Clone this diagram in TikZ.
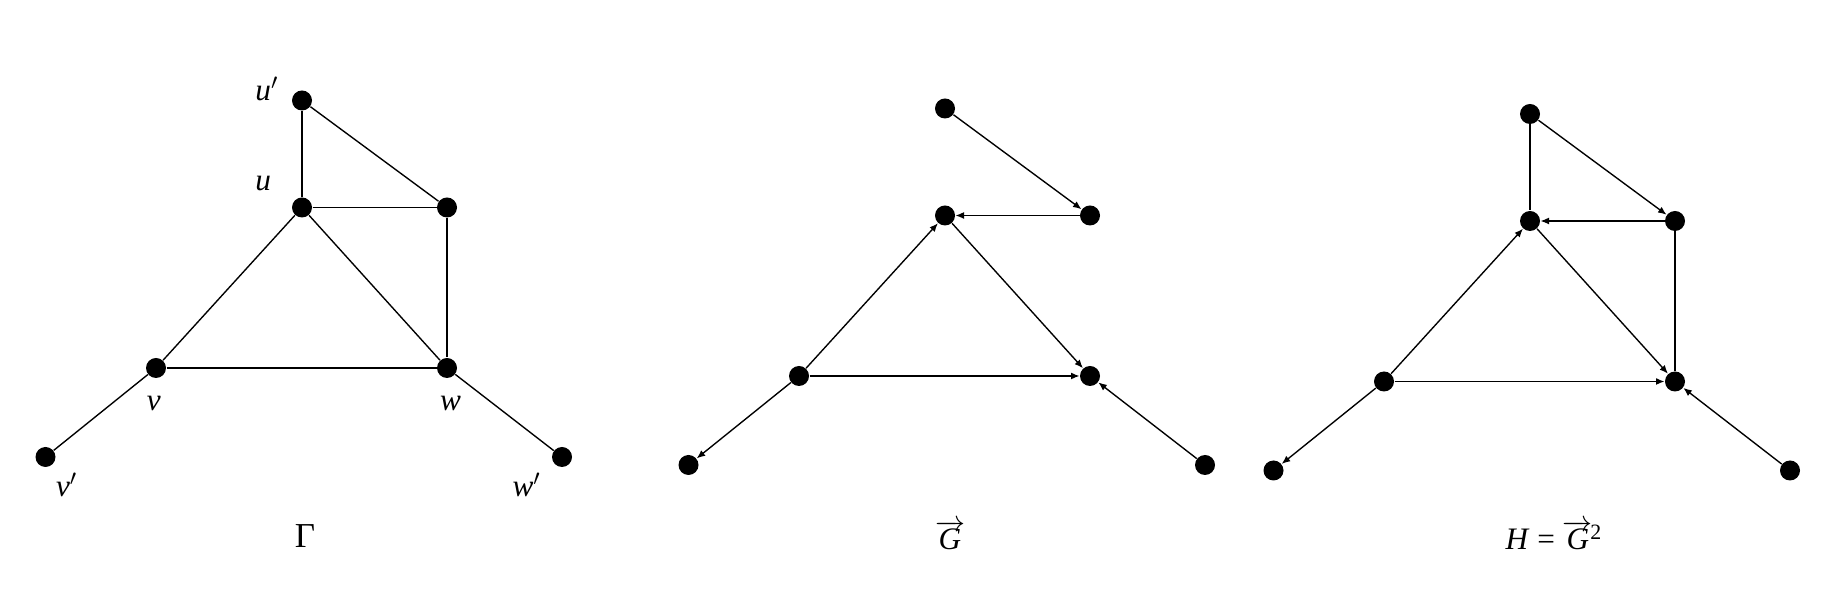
\documentclass[tikz,border=0pt]{standalone}
\usepackage{fontspec}
\setmainfont{Liberation Serif}
\usetikzlibrary{arrows.meta,positioning}

\begin{document}
\begin{tikzpicture}[
  font=\fontsize{12.5}{15}\selectfont,
  on grid,
  dot/.style={circle, fill, inner sep=0pt, minimum size=8pt},
  lbl/.style={inner sep=0pt},
  edge/.style={line width=0.55pt},
  arrow/.style={-{Latex[length=3.4pt,width=2.8pt]}, line width=0.55pt}
]
  \useasboundingbox (0,0) rectangle (733.6pt,-242.4pt);

  % Gamma
  \node[dot] (au) at (120.8pt,-83pt) {};
  \node[dot, above=42.8pt of au] (aup) {};
  \node[dot, right=58pt of au] (ax) {};
  \node[dot, below left=64.2pt and 58.4pt of au] (av) {};
  \node[dot, below right=64.2pt and 58pt of au] (aw) {};
  \node[dot, below left=35.6pt and 44.2pt of av] (avp) {};
  \node[dot, below right=35.6pt and 46pt of aw] (awp) {};

  \node[lbl] (laup) at ([shift={(-14pt,4.7pt)}]aup) {\textit{u}$'$};
  \node[lbl] (lau) at ([shift={(-15.5pt,9.4pt)}]au) {\textit{u}};
  \node[lbl] (lav) at ([shift={(-0.9pt,-14.1pt)}]av) {\textit{v}};
  \node[lbl] (law) at ([shift={(1.4pt,-14.1pt)}]aw) {\textit{w}};
  \node[lbl] (lavp) at ([shift={(8.5pt,-11.3pt)}]avp) {\textit{v}$'$};
  \node[lbl] (lawp) at ([shift={(-14.1pt,-11.3pt)}]awp) {\textit{w}$'$};

  \node[font=\fontsize{14}{16}\selectfont] (capa) at (122pt,-214.4pt) {Γ};

  % G
  \node[dot] (bu) at (378pt,-86.2pt) {};
  \node[dot, above=42.8pt of bu] (bup) {};
  \node[dot, right=58pt of bu] (bx) {};
  \node[dot, below left=64.2pt and 58.4pt of bu] (bv) {};
  \node[dot, below right=64.2pt and 58pt of bu] (bw) {};
  \node[dot, below left=35.6pt and 44.2pt of bv] (bvp) {};
  \node[dot, below right=35.6pt and 46pt of bw] (bwp) {};

  \node (capb) at (380pt,-214.2pt) {$\overrightarrow{\textit{G}}$};

  % H
  \node[dot] (cu) at (612pt,-88.4pt) {};
  \node[dot, above=42.8pt of cu] (cup) {};
  \node[dot, right=58pt of cu] (cx) {};
  \node[dot, below left=64.2pt and 58.4pt of cu] (cv) {};
  \node[dot, below right=64.2pt and 58pt of cu] (cw) {};
  \node[dot, below left=35.6pt and 44.2pt of cv] (cvp) {};
  \node[dot, below right=35.6pt and 46pt of cw] (cwp) {};

  \node (capc) at (621.6pt,-214.2pt) {\textit{H} = $\overrightarrow{\textit{G}}$\kern-1pt\textsuperscript{2}};

  % Edges
  \draw[edge] (aup) -- (au);
  \draw[edge] (aup) -- (ax);
  \draw[edge] (au) -- (ax);
  \draw[edge] (ax) -- (aw);
  \draw[edge] (au) -- (av);
  \draw[edge] (au) -- (aw);
  \draw[edge] (av) -- (aw);
  \draw[edge] (av) -- (avp);
  \draw[edge] (aw) -- (awp);

  \draw[arrow] (bup) -- (bx);
  \draw[arrow] (bx) -- (bu);
  \draw[arrow] (bv) -- (bu);
  \draw[arrow] (bu) -- (bw);
  \draw[arrow] (bv) -- (bw);
  \draw[arrow] (bv) -- (bvp);
  \draw[arrow] (bwp) -- (bw);

  \draw[edge] (cup) -- (cu);
  \draw[arrow] (cup) -- (cx);
  \draw[arrow] (cx) -- (cu);
  \draw[edge] (cx) -- (cw);
  \draw[arrow] (cv) -- (cu);
  \draw[arrow] (cu) -- (cw);
  \draw[arrow] (cv) -- (cw);
  \draw[arrow] (cv) -- (cvp);
  \draw[arrow] (cwp) -- (cw);
\end{tikzpicture}
\end{document}
